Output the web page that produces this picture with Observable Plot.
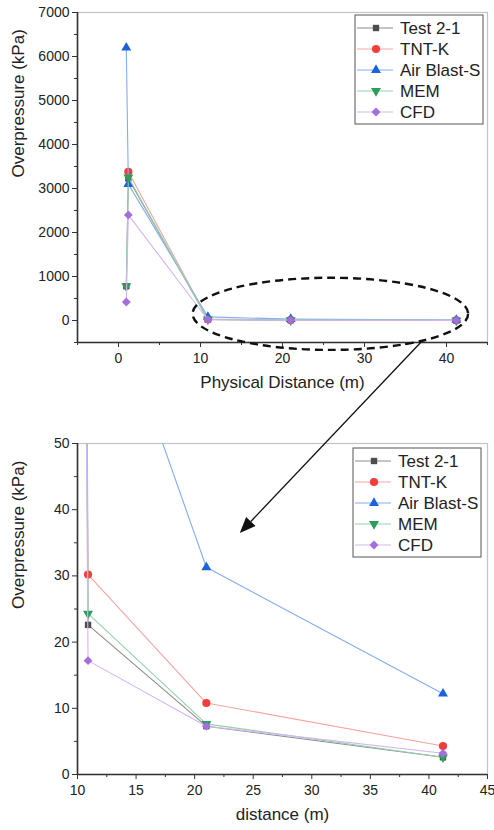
<!DOCTYPE html>
<html>
<head>
<meta charset="utf-8">
<script src="https://cdn.jsdelivr.net/npm/d3@7"></script>
<script src="https://cdn.jsdelivr.net/npm/@observablehq/plot@0.6"></script>
<style>
  html, body { margin: 0; padding: 0; background: #fff; }
  #wrap { position: relative; width: 494px; height: 830px; overflow: hidden; font-family: "Liberation Sans", Arial, sans-serif; }
  #wrap > svg, #wrap > div { position: absolute; left: 0; }
</style>
</head>
<body>
<div id="wrap"></div>
<script>
// ---------- data ----------
const seriesNames = ["Test 2-1", "TNT-K", "Air Blast-S", "MEM", "CFD"];
const distance = [0.95, 1.2, 10.9, 21, 41.2];
const test21 = [780, 3230, 22.6, 7.3, 2.6];
const tntK = [null, 3380, 30.2, 10.8, 4.3];
const airBlastS = [6200, 3100, 82, 31.3, 12.2];
const mem = [780, 3255, 24.3, 7.65, 2.6];
const cfd = [420, 2400, 17.2, 7.3, 3.2];
const seriesValues = [test21, tntK, airBlastS, mem, cfd];

const topXMajor = [0, 10, 20, 30, 40];
const topXMinor = [-5, 5, 15, 25, 35, 45];
const topYMajor = [0, 1000, 2000, 3000, 4000, 5000, 6000, 7000];
const topYMinor = [-500, 500, 1500, 2500, 3500, 4500, 5500, 6500];
const botXMajor = [10, 15, 20, 25, 30, 35, 40, 45];
const botXMinor = [12.5, 17.5, 22.5, 27.5, 32.5, 37.5, 42.5];
const botYMajor = [0, 10, 20, 30, 40, 50];
const botYMinor = [5, 15, 25, 35, 45];

// annotation (data coordinates)
const ellipseCenter = [25.9, 140];
const ellipseRadius = [16.8, 820];
const arrowFrom = [37.2, -455];   // top chart
const arrowTo = [23.9, 36.4];     // bottom chart

// ---------- styles ----------
const markerColors = ["#4d4d4d", "#f23d3d", "#1b63dc", "#2e9c5c", "#a66ddf"];
const lineColors = ["#8c8c8c", "#f7a3a3", "#84adef", "#93d1ab", "#d3b5f2"];
const symbols = ["square", "circle", "triangle", "triangle", "diamond2"];
const rotations = [0, 0, 0, 180, 0];
const radii = [3.6, 4.1, 3.7, 3.7, 4.0];

const rows = seriesNames.flatMap((name, s) =>
  distance.map((d, i) => ({ series: name, s, x: d, y: seriesValues[s][i] }))
    .filter(r => r.y != null)
);

function seriesMarks(clip) {
  const marks = [];
  seriesNames.forEach((name, s) => {
    const data = rows.filter(r => r.s === s);
    marks.push(Plot.line(data, { x: "x", y: "y", stroke: lineColors[s], strokeWidth: 1.1, clip }));
    marks.push(Plot.dot(data, { x: "x", y: "y", symbol: () => symbols[s], fill: markerColors[s], r: radii[s], rotate: rotations[s], clip }));
  });
  return marks;
}

const font = "'Liberation Sans', Arial, sans-serif";
const fmt = d3.format("d");

function makeChart(opts) {
  return Plot.plot({
    width: 494, height: opts.height,
    marginLeft: 77, marginRight: 7, marginTop: 12, marginBottom: opts.marginBottom,
    style: { fontFamily: font, color: "#333", background: "transparent", overflow: "visible" },
    x: { domain: opts.xDomain },
    y: { domain: opts.yDomain },
    symbol: { type: "identity" },
    marks: [
      Plot.frame({ stroke: "#c4c4c4", strokeWidth: 1.2 }),
      Plot.axisX({ ticks: opts.xMajor, tickSize: 5, tickPadding: 6, fontSize: 14, tickFormat: fmt, label: null, stroke: "#333", fill: "#222" }),
      Plot.axisX({ ticks: opts.xMinor, tickSize: 3, tickFormat: () => "", label: null, stroke: "#333" }),
      Plot.axisY({ ticks: opts.yMajor, tickSize: 5, tickPadding: 3, fontSize: 14, tickFormat: fmt, label: null, stroke: "#333", fill: "#222" }),
      Plot.axisY({ ticks: opts.yMinor, tickSize: 3, tickFormat: () => "", label: null, stroke: "#333" }),
      ...seriesMarks(opts.clip),
      Plot.ruleX([opts.xDomain[0]], { stroke: "#333", strokeWidth: 1.6 }),
      Plot.ruleY([opts.yDomain[0]], { stroke: "#333", strokeWidth: 1.6 }),
      Plot.text([opts.xLabel], { text: d => d, frameAnchor: "bottom", dy: 45, fontSize: 17, fill: "#222" }),
      Plot.text([opts.yLabel], { text: d => d, frameAnchor: "left", dx: -59, rotate: -90, fontSize: 17, fill: "#222" })
    ]
  });
}

const wrap = document.getElementById("wrap");

const topChart = makeChart({
  height: 400, marginBottom: 58,
  xDomain: [-5, 45], yDomain: [-500, 7000],
  xMajor: topXMajor, xMinor: topXMinor, yMajor: topYMajor, yMinor: topYMinor,
  xLabel: "Physical Distance (m)", yLabel: "Overpressure (kPa)", clip: false
});
topChart.style.top = "0px";
wrap.appendChild(topChart);

const bottomTop = 431;
const bottomChart = makeChart({
  height: 399, marginBottom: 56,
  xDomain: [10, 45], yDomain: [0, 50],
  xMajor: botXMajor, xMinor: botXMinor, yMajor: botYMajor, yMinor: botYMinor,
  xLabel: "distance (m)", yLabel: "Overpressure (kPa)", clip: true
});
bottomChart.style.top = bottomTop + "px";
wrap.appendChild(bottomChart);

// ---------- overlay: legends and annotation ----------
const overlay = d3.select(wrap).append("svg")
  .attr("width", 494).attr("height", 830)
  .style("top", "0px").style("pointer-events", "none");

function legend(boxX, boxY) {
  const g = overlay.append("g").attr("transform", `translate(${boxX},${boxY})`);
  g.append("rect").attr("x", 0).attr("y", 0).attr("width", 128).attr("height", 109)
    .attr("fill", "#fff").attr("stroke", "#555").attr("stroke-width", 1);
  seriesNames.forEach((name, s) => {
    const y = 13 + s * 21;
    g.append("line").attr("x1", 2).attr("x2", 38).attr("y1", y).attr("y2", y)
      .attr("stroke", lineColors[s]).attr("stroke-width", 1.2);
    const sym = { square: d3.symbolSquare, circle: d3.symbolCircle, triangle: d3.symbolTriangle, diamond2: d3.symbolDiamond2 }[symbols[s]];
    g.append("path").attr("d", d3.symbol(sym, Math.PI * radii[s] * radii[s])())
      .attr("transform", `translate(21,${y}) rotate(${rotations[s]})`)
      .attr("fill", markerColors[s]);
    g.append("text").attr("x", 45).attr("y", y).attr("dy", "0.36em")
      .attr("font-family", font).attr("font-size", 17).attr("fill", "#222").text(name);
  });
}
const tx = topChart.scale("x"), ty = topChart.scale("y");
const bx = bottomChart.scale("x"), by = bottomChart.scale("y");

legend(tx.apply(45) - 132, ty.apply(7000) + 3);
legend(bx.apply(45) - 134, bottomTop + by.apply(50) + 5);

// ellipse
const ecx = tx.apply(ellipseCenter[0]), ecy = ty.apply(ellipseCenter[1]);
overlay.append("ellipse")
  .attr("cx", ecx).attr("cy", ecy)
  .attr("rx", Math.abs(tx.apply(ellipseCenter[0] + ellipseRadius[0]) - ecx))
  .attr("ry", Math.abs(ty.apply(ellipseCenter[1] + ellipseRadius[1]) - ecy))
  .attr("fill", "none").attr("stroke", "#111").attr("stroke-width", 2.4)
  .attr("stroke-dasharray", "8,5");

// arrow
const ax1 = tx.apply(arrowFrom[0]), ay1 = ty.apply(arrowFrom[1]);
const ax2 = bx.apply(arrowTo[0]), ay2 = bottomTop + by.apply(arrowTo[1]);
const ang = Math.atan2(ay2 - ay1, ax2 - ax1);
const headLen = 16, headW = 6.5;
const bxp = ax2 - headLen * Math.cos(ang), byp = ay2 - headLen * Math.sin(ang);
overlay.append("line").attr("x1", ax1).attr("y1", ay1).attr("x2", bxp).attr("y2", byp)
  .attr("stroke", "#111").attr("stroke-width", 1.3);
overlay.append("path")
  .attr("d", `M${ax2},${ay2}L${bxp - headW * Math.sin(ang)},${byp + headW * Math.cos(ang)}L${bxp + headW * Math.sin(ang)},${byp - headW * Math.cos(ang)}Z`)
  .attr("fill", "#111");
</script>
</body>
</html>
